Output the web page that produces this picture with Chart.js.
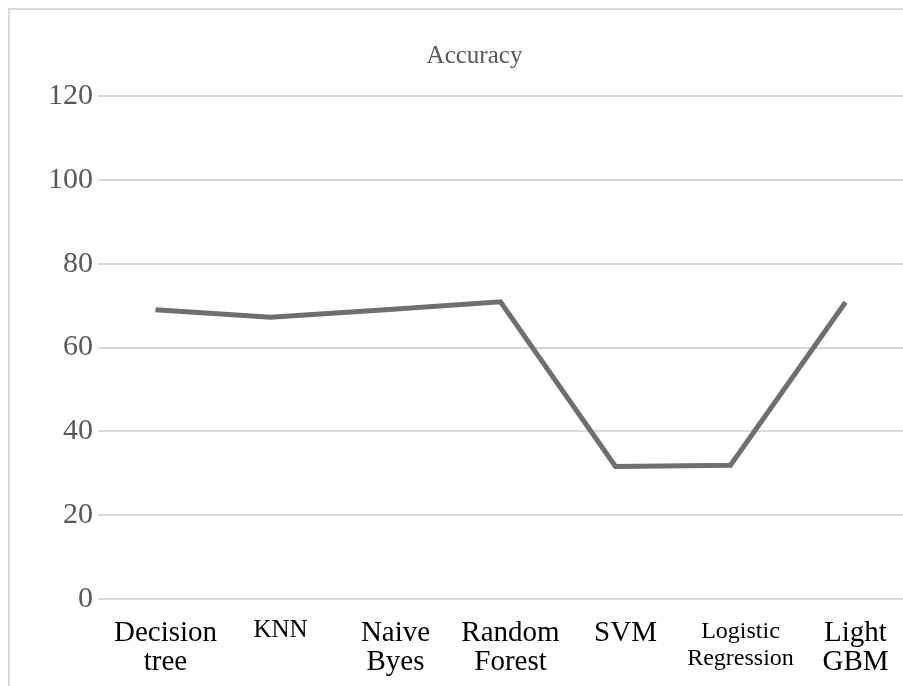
<!DOCTYPE html>
<html>
<head>
<meta charset="utf-8">
<script src="https://cdn.jsdelivr.net/npm/chart.js@4"></script>
<style>
  html, body { margin: 0; padding: 0; background: #fff; overflow: hidden; }
  #frame { position: absolute; left: 8px; top: 8px; width: 1000px; height: 1000px; border: 2px solid #d9d9d9; box-sizing: border-box; }
  #wrap { position: absolute; left: 0; top: 0; width: 903px; height: 686px; }
</style>
</head>
<body>
<div id="frame"></div>
<div id="wrap"><canvas id="accuracyChart" width="903" height="686"></canvas></div>
<script>
// dados
const models = [
  ['Decision', 'tree'],
  'KNN',
  ['Naive', 'Byes'],
  ['Random', 'Forest'],
  'SVM',
  ['Logistic', 'Regression'],
  ['Light', 'GBM']
];
const accuracy = [69.0, 67.2, 69.0, 70.9, 31.6, 31.9, 70.8];
const yTicks = [0, 20, 40, 60, 80, 100, 120];

const serif = '"Liberation Serif", "Times New Roman", serif';

const ctx = document.getElementById('accuracyChart').getContext('2d');
new Chart(ctx, {
  type: 'line',
  data: {
    labels: models,
    datasets: [{
      label: 'Accuracy',
      data: accuracy,
      borderColor: '#6f6f6f',
      borderWidth: 5,
      pointRadius: 0,
      tension: 0,
      fill: false
    }]
  },
  options: {
    responsive: false,
    animation: false,
    // padding esquerdo desloca o titulo para a direita como no original
    layout: { padding: { left: 42, right: -4, top: 0, bottom: 0 } },
    plugins: {
      legend: { display: false },
      tooltip: { enabled: false },
      title: {
        display: true,
        text: 'Accuracy',
        color: '#595959',
        font: { family: serif, size: 25, weight: 'normal', lineHeight: 1.2 },
        padding: { top: 41, bottom: 25 }
      }
    },
    scales: {
      x: {
        offset: true,
        grid: { display: false, drawTicks: false },
        border: { display: false },
        afterFit: s => { s.height = 87; },
        ticks: {
          color: '#000',
          padding: 19,
          labelOffset: 10,
          maxRotation: 0,
          autoSkip: false,
          // KNN e Logistic Regression tem fonte menor no original
          font: c => {
            if (c.index === 5) return { family: serif, size: 24, lineHeight: 1.12 };
            if (c.index === 1) return { family: serif, size: 25, lineHeight: 1.0 };
            return { family: serif, size: 29, lineHeight: 1.03 };
          }
        }
      },
      y: {
        min: 0,
        max: 120,
        afterFit: s => { s.width = 56; },
        afterBuildTicks: s => { s.ticks = yTicks.map(v => ({ value: v })); },
        grid: { color: '#d9d9d9', lineWidth: 2, drawTicks: false },
        border: { display: false },
        ticks: {
          color: '#595959',
          padding: 5,
          font: { family: serif, size: 30 }
        }
      }
    }
  }
});
</script>
</body>
</html>
